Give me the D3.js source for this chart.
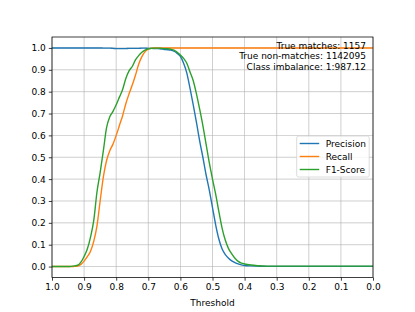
<!DOCTYPE html>
<html>
<head>
<meta charset="utf-8">
<script src="https://cdn.jsdelivr.net/npm/d3@7"></script>
<style>
  body { margin: 0; background: #fff; }
  svg { display: block; }
  text { font-family: "DejaVu Sans", sans-serif; fill: #000; }
</style>
</head>
<body>
<svg id="chart" width="415" height="312"></svg>
<script>
// Threshold values (x axis runs from 1.0 down to 0.0)
var thresholds = [
  1.0, 0.95, 0.94, 0.93, 0.92, 0.91, 0.90, 0.89, 0.88, 0.87,
  0.86, 0.85, 0.84, 0.83, 0.82, 0.81, 0.80, 0.79, 0.78, 0.77,
  0.76, 0.75, 0.74, 0.73, 0.72, 0.71, 0.70, 0.69, 0.68, 0.67,
  0.66, 0.65, 0.64, 0.63, 0.62, 0.61, 0.60, 0.59, 0.58, 0.57,
  0.56, 0.55, 0.54, 0.53, 0.52, 0.51, 0.50, 0.49, 0.48, 0.47,
  0.46, 0.45, 0.44, 0.43, 0.42, 0.41, 0.40, 0.38, 0.36, 0.33,
  0.30, 0.20, 0.10, 0.0]

var precision = [
  1, 1, 1, 1, 1, 1, 1, 1, 1, 1,
  1, 1, 0.999, 0.999, 0.999, 0.998, 0.997, 0.997, 0.997, 0.997,
  0.998, 0.998, 0.998, 0.998, 0.999, 0.999, 0.998, 0.998, 0.997, 0.997,
  0.995, 0.993, 0.992, 0.99, 0.985, 0.975, 0.961, 0.93, 0.885, 0.815,
  0.74, 0.66, 0.575, 0.50, 0.42, 0.35, 0.27, 0.19, 0.125, 0.08,
  0.055, 0.038, 0.026, 0.018, 0.012, 0.008, 0.005, 0.003, 0.002, 0.001,
  0.001, 0.001, 0.001, 0.001]

var recall = [
  0, 0, 0, 0.001, 0.002, 0.01, 0.025, 0.045, 0.07, 0.115,
  0.185, 0.30, 0.41, 0.485, 0.53, 0.56, 0.60, 0.645, 0.69, 0.745,
  0.79, 0.83, 0.875, 0.925, 0.96, 0.983, 0.995, 0.999, 1, 1,
  1, 1, 1, 1, 1, 1, 1, 1, 1, 1,
  1, 1, 1, 1, 1, 1, 1, 1, 1, 1,
  1, 1, 1, 1, 1, 1, 1, 1, 1, 1,
  1, 1, 1, 1]

var f1 = [
  0, 0, 0.001, 0.003, 0.006, 0.02, 0.046, 0.08, 0.135, 0.21,
  0.34, 0.43, 0.53, 0.635, 0.685, 0.71, 0.74, 0.775, 0.81, 0.86,
  0.895, 0.915, 0.945, 0.965, 0.98, 0.99, 0.996, 0.998, 0.999, 0.999,
  0.998, 0.997, 0.996, 0.994, 0.99, 0.98, 0.968, 0.952, 0.93, 0.89,
  0.85, 0.79, 0.72, 0.645, 0.56, 0.475, 0.40, 0.33, 0.25, 0.175,
  0.12, 0.082, 0.058, 0.038, 0.024, 0.016, 0.012, 0.007, 0.004, 0.002,
  0.002, 0.002, 0.002, 0.002]

var seriesNames = ['Precision', 'Recall', 'F1-Score']
var seriesColors = ['#1f77b4', '#ff7f0e', '#2ca02c']
var xTicks = [1.0, 0.9, 0.8, 0.7, 0.6, 0.5, 0.4, 0.3, 0.2, 0.1, 0.0]
var yTicks = [0.0, 0.1, 0.2, 0.3, 0.4, 0.5, 0.6, 0.7, 0.8, 0.9, 1.0]
var notes = ['True matches: 1157', 'True non-matches: 1142095', 'Class imbalance: 1:987.12']

var margin = {left: 52, right: 42, top: 37, bottom: 34.5}
var W = 415, H = 312
var w = W - margin.left - margin.right
var h = H - margin.top - margin.bottom

var svg = d3.select('#chart')
var g = svg.append('g').attr('transform', 'translate(' + margin.left + ',' + margin.top + ')')

var x = d3.scaleLinear().domain([1, 0]).range([0, w])
var y = d3.scaleLinear().domain([-0.05, 1.05]).range([h, 0])

// grid
g.append('g').selectAll('line').data(xTicks).enter().append('line')
  .attr('x1', function(d){ return x(d) }).attr('x2', function(d){ return x(d) })
  .attr('y1', 0).attr('y2', h)
  .attr('stroke', '#b0b0b0').attr('stroke-width', 0.75).attr('opacity', 0.8)
g.append('g').selectAll('line').data(yTicks).enter().append('line')
  .attr('y1', function(d){ return y(d) }).attr('y2', function(d){ return y(d) })
  .attr('x1', 0).attr('x2', w)
  .attr('stroke', '#b0b0b0').attr('stroke-width', 0.75).attr('opacity', 0.8)

// curves
var series = [precision, recall, f1]
var line = d3.line()
  .x(function(d){ return x(d[0]) })
  .y(function(d){ return y(d[1]) })
  .curve(d3.curveMonotoneX)

var clip = svg.append('clipPath').attr('id', 'clip').append('rect')
  .attr('width', w).attr('height', h)

series.forEach(function(vals, i){
  g.append('path')
    .datum(thresholds.map(function(t, j){ return [t, vals[j]] }))
    .attr('d', line)
    .attr('fill', 'none')
    .attr('stroke', seriesColors[i])
    .attr('stroke-width', 1.4)
    .attr('clip-path', 'url(#clip)')
})

// axes
var xAxis = d3.axisBottom(x).tickValues(xTicks).tickFormat(d3.format('.1f')).tickSize(3.2).tickPadding(3)
var yAxis = d3.axisLeft(y).tickValues(yTicks).tickFormat(d3.format('.1f')).tickSize(3.2).tickPadding(3)

var gx = g.append('g').attr('transform', 'translate(0,' + h + ')').call(xAxis)
var gy = g.append('g').call(yAxis)
;[gx, gy].forEach(function(a){
  a.select('.domain').remove()
  a.selectAll('line').attr('stroke', '#000').attr('stroke-width', 0.75)
  a.selectAll('text').attr('font-size', '9px').attr('font-family', '"DejaVu Sans", sans-serif').attr('fill', '#000')
})

// frame
g.append('rect').attr('width', w).attr('height', h)
  .attr('fill', 'none').attr('stroke', '#000').attr('stroke-width', 0.75)

g.append('text')
  .attr('x', w / 2).attr('y', h + 28)
  .attr('text-anchor', 'middle')
  .attr('font-size', '9px')
  .text('Threshold')

// notes top right
notes.forEach(function(n, i){
  g.append('text')
    .attr('x', w - 7).attr('y', 11.5 + i * 10.5)
    .attr('text-anchor', 'end')
    .attr('font-size', '9px')
    .text(n)
})

// legend
var lg = g.append('g').attr('transform', 'translate(' + (296.7 - margin.left) + ',' + (136 - margin.top) + ')')
lg.append('rect').attr('width', 72.5).attr('height', 41).attr('rx', 2)
  .attr('fill', '#fff').attr('fill-opacity', 0.8)
  .attr('stroke', '#d0d0d0').attr('stroke-width', 0.75)
seriesNames.forEach(function(name, i){
  var yy = 7.5 + i * 13
  lg.append('line').attr('x1', 3).attr('x2', 22.5).attr('y1', yy).attr('y2', yy)
    .attr('stroke', seriesColors[i]).attr('stroke-width', 1.4)
  lg.append('text').attr('x', 29).attr('y', yy + 3.2)
    .attr('font-size', '9px').text(name)
})
</script>
</body>
</html>
